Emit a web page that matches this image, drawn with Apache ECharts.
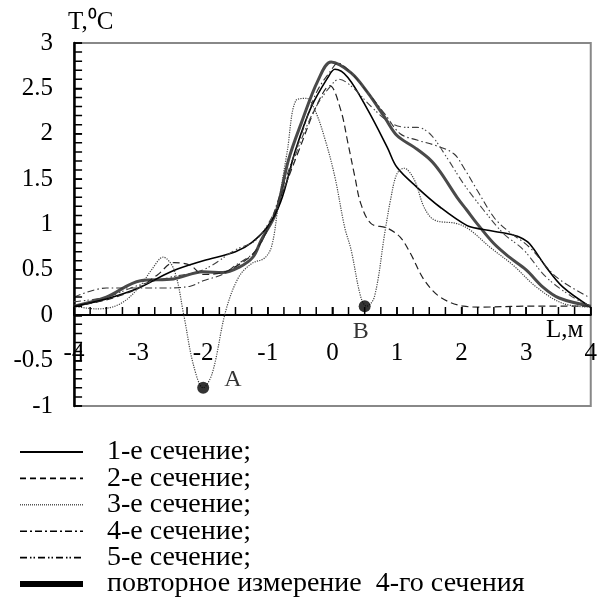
<!DOCTYPE html>
<html>
<head>
<meta charset="utf-8">
<script src="https://cdn.jsdelivr.net/npm/echarts@6/dist/echarts.min.js"></script>
<style>html,body{margin:0;padding:0;background:#fff}#c{width:600px;height:616px}</style>
</head>
<body>
<div id="c"></div>
<script>
// ---- data ----
var seriesNames = ['1-е сечение;', '2-е сечение;', '3-е сечение;', '4-е сечение;', '5-е сечение;', 'повторное измерение  4-го сечения'];

var s1x = [-4, -3.5, -3, -2.5, -2, -1.5, -1.25, -1, -0.8, -0.57, -0.33, -0.07, 0.04, 0.24, 0.55, 0.85, 1.0, 1.31, 1.67, 2.08, 2.3, 2.7, 2.9, 3.05, 3.31, 3.57, 4];
var s1y = [0.1, 0.18, 0.3, 0.48, 0.6, 0.7, 0.8, 0.98, 1.25, 1.82, 2.29, 2.62, 2.71, 2.62, 2.26, 1.85, 1.63, 1.41, 1.19, 0.99, 0.95, 0.9, 0.86, 0.79, 0.53, 0.31, 0.09];

var s2x = [-4, -3.5, -3, -2.7, -2.45, -2.2, -2, -1.7, -1.4, -1.2, -1, -0.8, -0.5, -0.25, -0.04, 0.13, 0.24, 0.35, 0.44, 0.6, 0.85, 1.05, 1.21, 1.42, 1.67, 2.03, 2.3, 3, 4];
var s2y = [0.1, 0.17, 0.3, 0.45, 0.58, 0.55, 0.45, 0.47, 0.58, 0.7, 0.95, 1.3, 1.85, 2.3, 2.53, 2.26, 1.9, 1.52, 1.23, 1.01, 0.96, 0.86, 0.68, 0.39, 0.2, 0.1, 0.09, 0.1, 0.1];

var s3x = [-4, -3.65, -3.3, -3, -2.8, -2.62, -2.45, -2.3, -2.15, -2.0, -1.86, -1.65, -1.45, -1.25, -1.05, -0.94, -0.84, -0.7, -0.56, -0.4, -0.27, -0.11, 0.04, 0.19, 0.29, 0.44, 0.53, 0.65, 0.81, 0.9, 1.0, 1.11, 1.27, 1.42, 1.58, 1.93, 2.13, 2.44, 2.8, 3.16, 3.57, 4];
var s3y = [0.1, 0.07, 0.12, 0.3, 0.5, 0.64, 0.5, 0.0, -0.55, -0.8, -0.64, 0.05, 0.42, 0.57, 0.63, 0.76, 1.2, 1.8, 2.37, 2.39, 2.26, 1.93, 1.52, 0.97, 0.72, 0.2, 0.1, 0.2, 0.9, 1.27, 1.56, 1.62, 1.49, 1.19, 1.05, 1.01, 0.94, 0.75, 0.55, 0.31, 0.13, 0.09];

var s4x = [-4, -3.5, -3, -2.6, -2.2, -2, -1.7, -1.5, -1.2, -1, -0.8, -0.5, -0.25, 0, 0.08, 0.25, 0.44, 0.81, 1.05, 1.31, 1.6, 1.88, 2.03, 2.24, 2.5, 2.7, 3.05, 3.47, 3.97];
var s4y = [0.2, 0.3, 0.3, 0.3, 0.32, 0.38, 0.45, 0.55, 0.7, 0.95, 1.35, 1.95, 2.45, 2.72, 2.78, 2.7, 2.55, 2.22, 2.0, 1.93, 1.87, 1.78, 1.63, 1.38, 1.08, 0.94, 0.75, 0.42, 0.2];

var s5x = [-4, -3.5, -3, -2.5, -2, -1.5, -1.2, -1, -0.8, -0.5, -0.25, 0, 0.1, 0.3, 0.6, 0.9, 1.16, 1.31, 1.51, 1.77, 2.03, 2.34, 2.65, 2.96, 3.31, 3.72, 4];
var s5y = [0.15, 0.2, 0.33, 0.42, 0.5, 0.72, 0.82, 1.0, 1.3, 1.9, 2.3, 2.55, 2.6, 2.52, 2.3, 2.12, 2.07, 2.07, 2.0, 1.74, 1.45, 1.16, 0.9, 0.72, 0.42, 0.2, 0.1];

var s6x = [-4, -3.5, -2.97, -2.46, -2.0, -1.7, -1.44, -1.23, -1.1, -0.88, -0.68, -0.48, -0.22, -0.02, 0.29, 0.55, 0.81, 1.0, 1.27, 1.52, 1.67, 1.93, 2.08, 2.24, 2.5, 2.74, 3.0, 3.26, 3.51, 4];
var s6y = [0.1, 0.2, 0.38, 0.4, 0.48, 0.47, 0.53, 0.64, 0.83, 1.12, 1.71, 2.12, 2.59, 2.79, 2.67, 2.45, 2.18, 1.98, 1.85, 1.71, 1.58, 1.3, 1.16, 1.01, 0.79, 0.64, 0.5, 0.31, 0.19, 0.1];

var pointNames = ['A', 'B'];
var pointX = [-2, 0.5];
var pointY = [-0.8, 0.1];

var xTicks = [-4, -3, -2, -1, 0, 1, 2, 3, 4];
var yTicks = [-1, -0.5, 0, 0.5, 1, 1.5, 2, 2.5, 3];
// tick-mark positions (every 0.25 on L, every 0.1 on T)
var xTickMarks = [-4, -3.75, -3.5, -3.25, -3, -2.75, -2.5, -2.25, -2, -1.75, -1.5, -1.25, -1, -0.75, -0.5, -0.25, 0,
  0.25, 0.5, 0.75, 1, 1.25, 1.5, 1.75, 2, 2.25, 2.5, 2.75, 3, 3.25, 3.5, 3.75, 4];
var yTickMarks = [-1, -0.9, -0.8, -0.7, -0.6, -0.5, -0.4, -0.3, -0.2, -0.1, 0, 0.1, 0.2, 0.3, 0.4, 0.5, 0.6, 0.7, 0.8, 0.9, 1,
  1.1, 1.2, 1.3, 1.4, 1.5, 1.6, 1.7, 1.8, 1.9, 2, 2.1, 2.2, 2.3, 2.4, 2.5, 2.6, 2.7, 2.8, 2.9, 3];

// ---- build ----
function pairs(xs, ys) { return xs.map(function (x, i) { return [x, ys[i]]; }); }
var FONT = '"Liberation Serif", "Times New Roman", serif';

var styles = [
  {color: '#000', width: 1.6, type: 'solid'},
  {color: '#222', width: 1.2, type: [7, 4]},
  {color: '#444', width: 1.2, type: [1.2, 1.2]},
  {color: '#333', width: 1.1, type: [7, 3, 1.5, 3]},
  {color: '#444', width: 1.1, type: [7, 3, 1.5, 2, 1.5, 3]},
  {color: '#4a4a4a', width: 3, type: 'solid'}
];
var allX = [s1x, s2x, s3x, s4x, s5x, s6x];
var allY = [s1y, s2y, s3y, s4y, s5y, s6y];

var series = seriesNames.map(function (n, i) {
  return {
    name: n, type: 'line', data: pairs(allX[i], allY[i]),
    smooth: 0.35, showSymbol: false, symbol: 'none',
    lineStyle: styles[i], itemStyle: {color: styles[i].color},
    z: i === 5 ? 1 : 3, silent: true
  };
});
series.push({
  type: 'scatter', symbol: 'circle', symbolSize: 12,
  itemStyle: {color: '#000'}, z: 5,
  data: pointNames.map(function (n, i) {
    return {
      name: n, value: [pointX[i], pointY[i]],
      label: i === 0
        ? {show: true, position: 'right', distance: 10, offset: [5, -8], formatter: '{b}', fontFamily: FONT, fontSize: 24, color: '#000'}
        : {show: true, position: 'bottom', distance: 8, offset: [-4, 0], formatter: '{b}', fontFamily: FONT, fontSize: 24, color: '#000'}
    };
  })
});
// tick marks as short line segments, one small line series per tick, on the axes' own scales
var X_TICK_LEN = 0.09;   // ~8 px in T units
var Y_TICK_LEN = 0.125;  // ~8 px in L units
xTickMarks.forEach(function (v) {
  series.push({type: 'line', data: [[v, 0], [v, X_TICK_LEN]], z: 4, showSymbol: false, symbol: 'none',
    smooth: false, silent: true, lineStyle: {color: '#000', width: 1.5, type: 'solid'}, itemStyle: {color: '#000'}});
});
yTickMarks.forEach(function (v) {
  series.push({type: 'line', data: [[-4, v], [-4 + Y_TICK_LEN, v]], z: 4, showSymbol: false, symbol: 'none',
    smooth: false, silent: true, lineStyle: {color: '#000', width: 1.5, type: 'solid'}, itemStyle: {color: '#000'}});
});

var legendStyles = [
  {color: '#000', width: 2, type: 'solid'},
  {color: '#000', width: 1.6, type: [6, 4]},
  {color: '#555', width: 1.4, type: [1, 1]},
  {color: '#000', width: 1.6, type: [7, 3, 2, 3]},
  {color: '#000', width: 1.6, type: [7, 3, 1.5, 2, 1.5, 3]},
  {color: '#000', width: 6, type: 'solid'}
];

var chart = echarts.init(document.getElementById('c'), null, {renderer: 'canvas'});
chart.setOption({
  animation: false,
  backgroundColor: '#fff',
  grid: {left: 74, right: 5, top: 43, bottom: 210, show: true, borderColor: '#888', borderWidth: 2, backgroundColor: 'transparent'},
  xAxis: {
    type: 'value', min: -4, max: 4, interval: 1,
    position: 'bottom', offset: -91,
    axisLine: {show: true, onZero: false, lineStyle: {color: '#000', width: 2}},
    axisTick: {show: true, inside: true, length: 8, lineStyle: {color: '#000', width: 1.5}},
    axisLabel: {margin: 26, fontFamily: FONT, fontSize: 25, color: '#000',
      formatter: function (v) { return xTicks.indexOf(v) >= 0 ? String(v) : ''; }},
    splitLine: {show: false}
  },
  yAxis: {
    type: 'value', min: -1, max: 3, interval: 0.5,
    position: 'left',
    axisLine: {show: true, onZero: false, lineStyle: {color: '#000', width: 2.5}},
    axisTick: {show: true, inside: true, length: 8, lineStyle: {color: '#000', width: 1.5}},
    axisLabel: {margin: 21, fontFamily: FONT, fontSize: 25, color: '#000',
      formatter: function (v) { return yTicks.indexOf(v) >= 0 ? String(v) : ''; }},
    splitLine: {show: false}
  },
  legend: {
    show: true,
    orient: 'vertical', left: 12, top: 433, bottom: 0,
    itemWidth: 63, itemHeight: 10, itemGap: -1.6,
    selectedMode: false,
    itemStyle: {opacity: 0},
    textStyle: {fontFamily: FONT, fontSize: 28, color: '#000', padding: [0, 0, 0, 19]},
    data: seriesNames.map(function (n, i) {
      return {name: n, lineStyle: legendStyles[i], itemStyle: {opacity: 0}};
    })
  },
  graphic: [
    {type: 'text', left: 68, top: 10, style: {text: 'T,⁰C', font: '25px ' + FONT, fill: '#000'}},
    {type: 'text', left: 546, top: 318, style: {text: 'L,м', font: '25px ' + FONT, fill: '#000'}}
  ],
  series: series
});
</script>
</body>
</html>
